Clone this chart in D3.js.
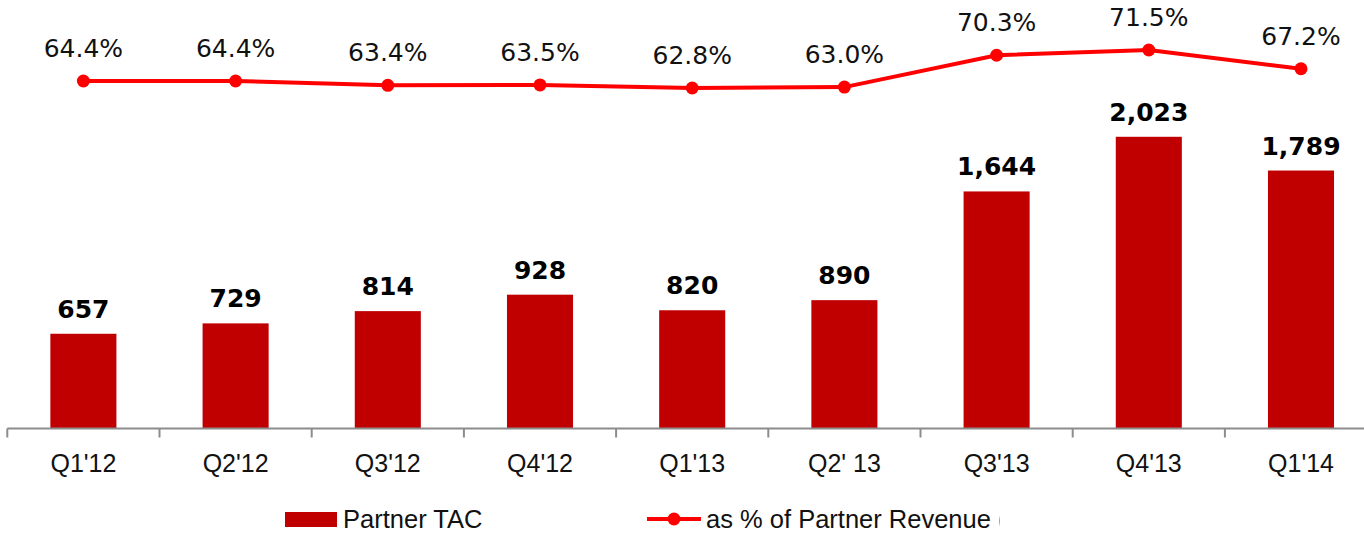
<!DOCTYPE html>
<html>
<head>
<meta charset="utf-8">
<script src="https://cdn.jsdelivr.net/npm/d3@7"></script>
<style>
  body { margin: 0; background: #fff; }
</style>
</head>
<body>
<div id="chart"></div>
<script>
  // chart data
  const quarters = ["Q1'12", "Q2'12", "Q3'12", "Q4'12", "Q1'13", "Q2' 13", "Q3'13", "Q4'13", "Q1'14"];
  const partnerTac = [657, 729, 814, 928, 820, 890, 1644, 2023, 1789];
  const pctOfRevenue = [64.4, 64.4, 63.4, 63.5, 62.8, 63.0, 70.3, 71.5, 67.2];

  const width = 1364;
  const height = 533;

  const svg = d3.select("#chart")
    .append("svg")
    .attr("width", width)
    .attr("height", height);

  // scales
  const x = d3.scaleBand()
    .domain(quarters)
    .range([7.3, 7.3 + 9 * 152.2])
    .padding(0);

  const barW = x.bandwidth() * 0.434;

  const yBar = d3.scaleLinear()
    .domain([0, 2500])
    .range([428.5, 68]);

  const yPct = d3.scaleLinear()
    .domain([60, 75])
    .range([100.2, 34.7]);

  const rows = quarters.map((q, i) => ({ q, tac: partnerTac[i], pct: pctOfRevenue[i] }));

  // bars
  svg.append("g")
    .selectAll("rect")
    .data(rows)
    .enter().append("rect")
    .attr("x", d => x(d.q) + (x.bandwidth() - barW) / 2)
    .attr("y", d => yBar(d.tac))
    .attr("width", barW)
    .attr("height", d => yBar(0) - yBar(d.tac))
    .attr("fill", "#c00000");

  // bar value labels
  svg.append("g")
    .selectAll("text")
    .data(rows)
    .enter().append("text")
    .attr("x", d => x(d.q) + x.bandwidth() / 2)
    .attr("y", d => yBar(d.tac) - 16)
    .attr("text-anchor", "middle")
    .style("font-family", "'DejaVu Sans', sans-serif")
    .style("font-weight", "bold")
    .style("font-size", "25px")
    .style("fill", "#000")
    .text(d => d3.format(",")(d.tac));

  // x axis: labels from d3 axis, ticks at band edges
  const axis = svg.append("g")
    .attr("transform", `translate(0,${yBar(0)})`)
    .call(d3.axisBottom(x).tickSize(0).tickPadding(26));

  axis.select(".domain")
    .attr("stroke", "#8c8c8c")
    .attr("stroke-width", 2)
    .attr("d", `M${x.range()[0]},0H${width}`);

  axis.selectAll(".tick text")
    .style("font-family", "'Liberation Sans', Arial, sans-serif")
    .style("font-size", "25px")
    .style("fill", "#111")
    .attr("dy", "0.71em");

  axis.selectAll(".edge")
    .data(quarters)
    .enter().append("line")
    .attr("class", "edge")
    .attr("x1", d => x(d))
    .attr("x2", d => x(d))
    .attr("y1", 0)
    .attr("y2", 9)
    .attr("stroke", "#8c8c8c")
    .attr("stroke-width", 2);

  // percentage line
  const line = d3.line()
    .x(d => x(d.q) + x.bandwidth() / 2)
    .y(d => yPct(d.pct));

  svg.append("path")
    .datum(rows)
    .attr("d", line)
    .attr("fill", "none")
    .attr("stroke", "#ff0000")
    .attr("stroke-width", 4);

  svg.append("g")
    .selectAll("circle")
    .data(rows)
    .enter().append("circle")
    .attr("cx", d => x(d.q) + x.bandwidth() / 2)
    .attr("cy", d => yPct(d.pct))
    .attr("r", 6.5)
    .attr("fill", "#ff0000");

  svg.append("g")
    .selectAll("text")
    .data(rows)
    .enter().append("text")
    .attr("x", d => x(d.q) + x.bandwidth() / 2)
    .attr("y", d => yPct(d.pct) - 24)
    .attr("text-anchor", "middle")
    .style("font-family", "'DejaVu Sans', sans-serif")
    .style("font-size", "25px")
    .style("fill", "#111")
    .text(d => d.pct.toFixed(1) + "%");

  // legend
  const legend = svg.append("g")
    .style("font-family", "'Liberation Sans', Arial, sans-serif")
    .style("font-size", "25.5px")
    .style("fill", "#111");

  legend.append("rect")
    .attr("x", 285)
    .attr("y", 512)
    .attr("width", 52)
    .attr("height", 15)
    .attr("fill", "#c00000");

  legend.append("text")
    .attr("x", 343)
    .attr("y", 528)
    .text("Partner TAC");

  legend.append("line")
    .attr("x1", 647)
    .attr("x2", 701)
    .attr("y1", 519)
    .attr("y2", 519)
    .attr("stroke", "#ff0000")
    .attr("stroke-width", 4);

  legend.append("circle")
    .attr("cx", 674)
    .attr("cy", 519)
    .attr("r", 6.5)
    .attr("fill", "#ff0000");

  // the original legend label is cut off on the right
  svg.append("clipPath")
    .attr("id", "legend-clip")
    .append("rect")
    .attr("x", 700)
    .attr("y", 490)
    .attr("width", 300)
    .attr("height", 43);

  legend.append("text")
    .attr("x", 706)
    .attr("y", 528)
    .attr("clip-path", "url(#legend-clip)")
    .text("as % of Partner Revenue (%)");
</script>
</body>
</html>
